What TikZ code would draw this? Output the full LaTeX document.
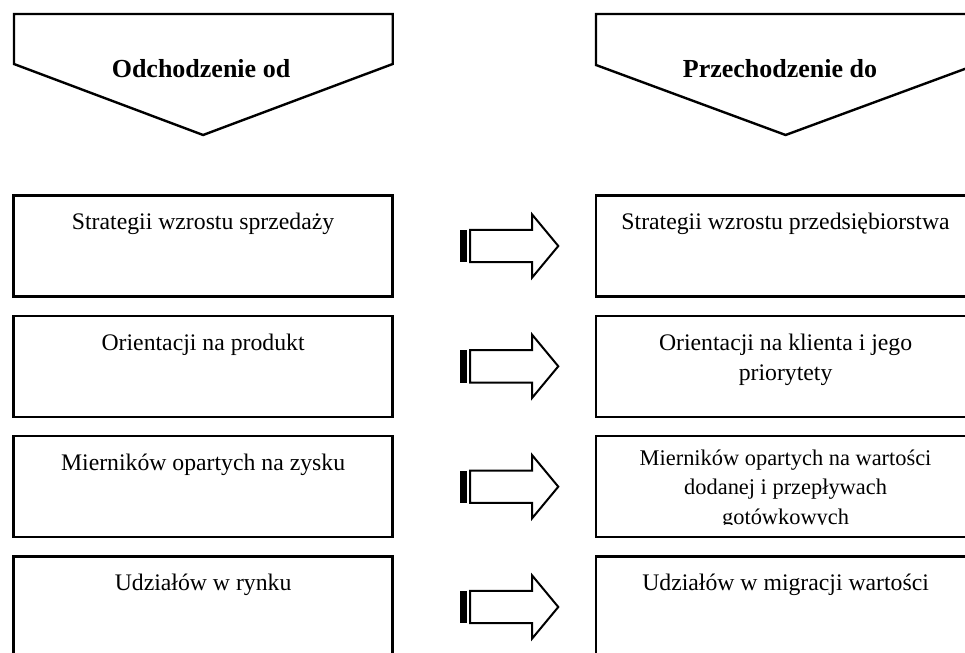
\documentclass[tikz,border=0pt]{standalone}
\usepackage{fontspec}
\setmainfont{Liberation Serif}
\usetikzlibrary{calc}
\begin{document}
\begin{tikzpicture}[x=0.75pt,y=-0.75pt,
  frame/.style={draw, line width=1.9pt, minimum width=284.4pt,
    minimum height=75.75pt, inner sep=0pt, outer sep=0pt},
  chevron/.style={draw, line width=1.8pt, line join=miter},
  headtext/.style={font=\fontsize{19.5}{23}\selectfont\bfseries,
    inner sep=0pt, anchor=base},
  bodytext/.style={font=\fontsize{17.8}{22.5}\selectfont,
    inner sep=0pt, anchor=base},
  smalltext/.style={font=\fontsize{16.8}{22.2}\selectfont,
    inner sep=0pt, anchor=base},
  shiftarrow/.pic={
    \fill (0,-16.2) rectangle (7.2,16.2);
    \draw[line width=1.5pt, line join=miter]
      (10.5,-16.2) -- (72.5,-16.2) -- (72.5,-31.7) -- (98.8,0)
      -- (72.5,31.7) -- (72.5,16.2) -- (10.5,16.2) -- cycle;
  }]
\useasboundingbox (0,0) rectangle (965,653);
\clip (0,0) rectangle (965,653);

% column headings
\draw[chevron] (14,14) -- (392.7,14) -- (392.7,64) -- (203.1,135)
  -- (14,64) -- cycle;
\draw[chevron] (596,14) -- (975.5,14) -- (975.5,65) -- (785.6,135)
  -- (596,65) -- cycle;
\node[headtext] (hleft) at (201,77.3) {Odchodzenie od};
\node[headtext] (hright) at (780,77.3) {Przechodzenie do};

% left column
\node[frame] (l1) at (203.1,246) {};
\node[frame] (l2) at (203.1,366.3) {};
\node[frame] (l3) at (203.1,486.7) {};
\node[frame] (l4) at (203.1,607) {};
% right column
\node[frame] (r1) at (785.6,246) {};
\node[frame] (r2) at (785.6,366.3) {};
\node[frame] (r3) at (785.6,486.7) {};
\node[frame] (r4) at (785.6,607) {};

% box texts
\node[bodytext] (tl1) at ($(l1.north)+(0,33.5)$) {Strategii wzrostu sprzedaży};
\node[bodytext] (tl2) at ($(l2.north)+(0,35)$) {Orientacji na produkt};
\node[bodytext] (tl3) at ($(l3.north)+(0,34.5)$) {Mierników opartych na zysku};
\node[bodytext] (tl4) at ($(l4.north)+(0,34)$) {Udziałów w rynku};

\node[bodytext] (tr1) at ($(r1.north)+(0,33.5)$) {Strategii wzrostu przedsiębiorstwa};
\node[bodytext] (tr2) at ($(r2.north)+(0,35)$)
  {\parbox[t]{280pt}{\centering Orientacji na klienta i jego\\priorytety}};
\begin{scope}
  % the last line runs past the inner margin of the frame and is cut
  \clip ($(r3.north west)+(2,2)$) rectangle ($(r3.south east)+(-2,-12.5)$);
  \node[smalltext] (tr3) at ($(r3.north)+(0,29)$)
    {\parbox[t]{280pt}{\centering Mierników opartych na wartości\\
      dodanej i przepływach\\gotówkowych}};
\end{scope}
\node[bodytext] (tr4) at ($(r4.north)+(0,34)$) {Udziałów w migracji wartości};

% block arrows between the columns
\pic at ($(l1.east)+(66.8,0)$) {shiftarrow};
\pic at ($(l2.east)+(66.8,0)$) {shiftarrow};
\pic at ($(l3.east)+(66.8,0)$) {shiftarrow};
\pic at ($(l4.east)+(66.8,0)$) {shiftarrow};
\end{tikzpicture}
\end{document}
